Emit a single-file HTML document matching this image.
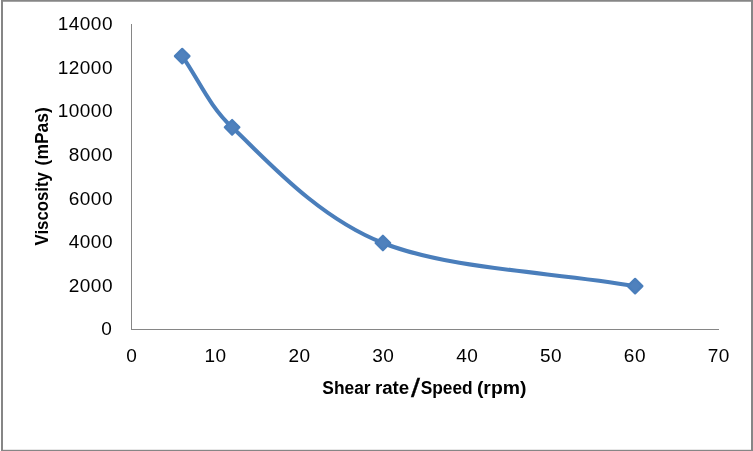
<!DOCTYPE html>
<html lang="en"><head><meta charset="utf-8"><title>Viscosity vs Shear rate/Speed</title>
<style>
html,body{margin:0;padding:0;background:#fff;}
body{width:753px;height:451px;overflow:hidden;}
svg{display:block;}
text{font-family:"Liberation Sans",sans-serif;fill:#000;}
.tick{font-size:19.0px;letter-spacing:0.5px;}
.title{font-size:19.2px;font-weight:bold;}
</style></head><body>
<svg width="753" height="451" viewBox="0 0 753 451">
<rect x="0" y="0" width="753" height="451" fill="#fff"/>

<rect x="1" y="0" width="2" height="451" fill="#868686"/>
<rect x="1" y="0" width="752" height="1.75" fill="#868686"/>
<rect x="751" y="0" width="2" height="451" fill="#868686"/>
<rect x="1" y="449.8" width="752" height="1.2" fill="#868686"/>
<rect x="131" y="24" width="1" height="306" fill="#868686"/>
<rect x="131" y="329" width="588" height="1" fill="#868686"/>
<text class="tick" text-anchor="end" x="112.3" y="335.2">0</text>
<text class="tick" text-anchor="end" x="113.0" y="291.6">2000</text>
<text class="tick" text-anchor="end" x="113.0" y="248.1">4000</text>
<text class="tick" text-anchor="end" x="113.0" y="204.5">6000</text>
<text class="tick" text-anchor="end" x="113.0" y="160.9">8000</text>
<text class="tick" text-anchor="end" x="113.0" y="117.3">10000</text>
<text class="tick" text-anchor="end" x="113.0" y="73.8">12000</text>
<text class="tick" text-anchor="end" x="113.0" y="30.2">14000</text>
<text class="tick" text-anchor="middle" x="131.8" y="362.2">0</text>
<text class="tick" text-anchor="middle" x="215.6" y="362.2">10</text>
<text class="tick" text-anchor="middle" x="299.5" y="362.2">20</text>
<text class="tick" text-anchor="middle" x="383.3" y="362.2">30</text>
<text class="tick" text-anchor="middle" x="467.2" y="362.2">40</text>
<text class="tick" text-anchor="middle" x="551.0" y="362.2">50</text>
<text class="tick" text-anchor="middle" x="634.9" y="362.2">60</text>
<text class="tick" text-anchor="middle" x="718.8" y="362.2">70</text>
<text class="title" y="393.9"><tspan x="322.3" textLength="48.3" lengthAdjust="spacingAndGlyphs">Shear</tspan> <tspan x="374.9" textLength="34.3" lengthAdjust="spacingAndGlyphs">rate</tspan><tspan x="411.0" dy="3.0" textLength="9.0" lengthAdjust="spacingAndGlyphs" style="font-size:25.5px;font-weight:normal;stroke:#000;stroke-width:0.3px">/</tspan><tspan x="420.7" dy="-3.0" textLength="52.0" lengthAdjust="spacingAndGlyphs">Speed</tspan> <tspan x="476.9" textLength="49.5" lengthAdjust="spacingAndGlyphs">(rpm)</tspan></text>
<text class="title" transform="translate(48,0) rotate(-90)" y="0"><tspan x="-245.4" textLength="73.2" lengthAdjust="spacingAndGlyphs">Viscosity</tspan> <tspan x="-165.4" textLength="58.2" lengthAdjust="spacingAndGlyphs">(mPas)</tspan></text>
<path d="M182.20,56.10 C198.83,79.83 209.02,105.81 232.10,127.30 C263.93,156.94 315.73,216.53 382.90,243.00 C450.07,269.47 551.03,271.73 635.10,286.10" fill="none" stroke="#4A7EBB" stroke-width="4.1" stroke-linecap="round" stroke-linejoin="round"/>
<g fill="#4F81BD" stroke="#4A7EBB" stroke-width="2.2" stroke-linejoin="round">
<path d="M182.20,48.80 L189.50,56.10 L182.20,63.40 L174.90,56.10 Z"/>
<path d="M232.10,120.00 L239.40,127.30 L232.10,134.60 L224.80,127.30 Z"/>
<path d="M382.90,235.70 L390.20,243.00 L382.90,250.30 L375.60,243.00 Z"/>
<path d="M635.10,278.80 L642.40,286.10 L635.10,293.40 L627.80,286.10 Z"/>
</g>
</svg></body></html>
